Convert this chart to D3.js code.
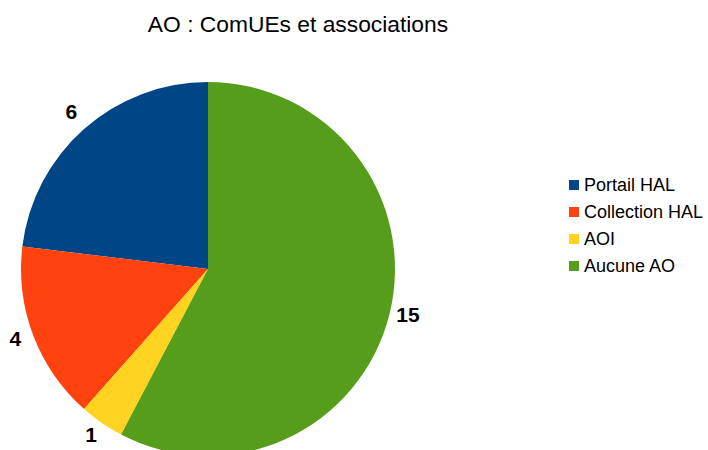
<!DOCTYPE html>
<html>
<head>
<meta charset="utf-8">
<script src="https://cdn.jsdelivr.net/npm/d3@7"></script>
<style>
  body { margin: 0; background: #fff; }
  text { font-family: "Liberation Sans", Arial, sans-serif; }
</style>
</head>
<body>
<script>
var chartTitle = "AO : ComUEs et associations";
var categories = ["Portail HAL", "Collection HAL", "AOI", "Aucune AO"];
var counts = [6, 4, 1, 15];
var colours = ["#004586", "#ff420e", "#ffd320", "#579d1c"];

var width = 708, height = 450;
var cx = 208, cy = 269, radius = 187;
var labelRadius = radius + 19;

var svg = d3.select("body").append("svg")
    .attr("width", width)
    .attr("height", height);

svg.append("text")
    .attr("x", 298)
    .attr("y", 32)
    .attr("text-anchor", "middle")
    .attr("font-size", 22.8)
    .attr("fill", "#000")
    .text(chartTitle);

var colour = d3.scaleOrdinal().domain(categories).range(colours);

// slices go anticlockwise from 12 o'clock, in legend order
var pie = d3.pie().sort(null).startAngle(0).endAngle(-2 * Math.PI);
var arcs = pie(counts);

var arc = d3.arc().innerRadius(0).outerRadius(radius);
var labelArc = d3.arc().innerRadius(labelRadius).outerRadius(labelRadius);

var g = svg.append("g")
    .attr("transform", "translate(" + cx + "," + cy + ")");

g.selectAll("path")
    .data(arcs).enter()
    .append("path")
    .attr("d", arc)
    .attr("fill", function(d, i) { return colour(categories[i]); });

g.selectAll(".lbl")
    .data(arcs).enter()
    .append("text")
    .attr("class", "lbl")
    .attr("transform", function(d) { return "translate(" + labelArc.centroid(d) + ")"; })
    .attr("text-anchor", "middle")
    .attr("dy", "0.18em")
    .attr("font-size", 21)
    .attr("font-weight", "bold")
    .text(function(d) { return d.data; });

var legend = svg.append("g")
    .attr("transform", "translate(569,185)");

var rows = legend.selectAll("g")
    .data(categories).enter()
    .append("g")
    .attr("transform", function(d, i) { return "translate(0," + (i * 27) + ")"; });

rows.append("rect")
    .attr("x", 0)
    .attr("y", -5)
    .attr("width", 10)
    .attr("height", 10)
    .attr("fill", function(d) { return colour(d); });

rows.append("text")
    .attr("x", 15)
    .attr("dy", "0.36em")
    .attr("font-size", 18)
    .text(function(d) { return d; });
</script>
</body>
</html>
